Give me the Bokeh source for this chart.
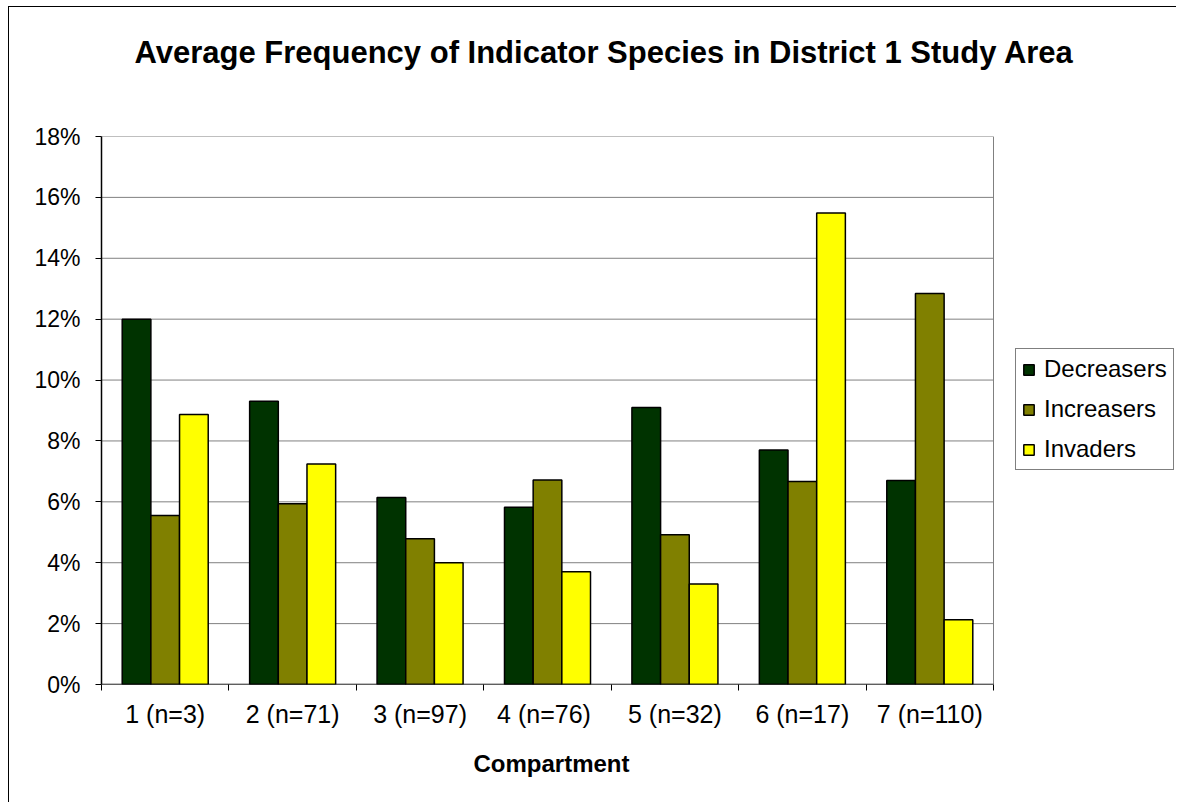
from bokeh.plotting import figure
from bokeh.models import (ColumnDataSource, Range1d, FixedTicker, NumeralTickFormatter,
                          Legend, LegendItem, Title)
from bokeh.transform import dodge
from bokeh.embed import file_html
from bokeh.resources import INLINE

categories = ["1 (n=3)", "2 (n=71)", "3 (n=97)", "4  (n=76)", "5 (n=32)", "6 (n=17)", "7 (n=110)"]
decreasers = [0.1200, 0.0930, 0.0614, 0.0582, 0.0910, 0.0770, 0.0670]
increasers = [0.0555, 0.0594, 0.0479, 0.0672, 0.0492, 0.0667, 0.1284]
invaders = [0.0887, 0.0724, 0.0400, 0.0370, 0.0330, 0.1549, 0.0213]
series_names = ["Decreasers", "Increasers", "Invaders"]
series_colors = ["#003300", "#808000", "#FFFF00"]
y_ticks = [0, 0.02, 0.04, 0.06, 0.08, 0.10, 0.12, 0.14, 0.16, 0.18]
y_max = 0.18
title_text = "Average Frequency of Indicator Species in District 1 Study Area"
x_title = "Compartment"

n = len(categories)
centers = [i + 0.5 for i in range(n)]
src = ColumnDataSource(dict(x=centers, cat=categories, Decreasers=decreasers,
                            Increasers=increasers, Invaders=invaders))

FONT = "Liberation Sans"

# layout (pixels)
W, H = 1168, 796
LEFT, TOP, BOTTOM = 92, 129, 119
PLOT_W = 892                 # width of the plotting area proper
FRAME_W = W - LEFT           # frame reaches the right edge; legend lives there
x_end = n * FRAME_W / PLOT_W

p = figure(width=W, height=H, output_backend="svg", toolbar_location=None,
           x_range=Range1d(0, x_end), y_range=Range1d(0, y_max),
           min_border_left=LEFT, min_border_right=0, min_border_top=TOP, min_border_bottom=BOTTOM,
           background_fill_color="white", border_fill_color="white")
p.styles = {"margin-left": "8px", "margin-top": "6px",
            "border-left": "1px solid #000", "border-top": "1px solid #000"}
p.outline_line_color = None
p.xgrid.grid_line_color = None
p.ygrid.grid_line_color = None

# gridlines and right edge of the plotting area
p.segment(x0=[0] * len(y_ticks), x1=[n] * len(y_ticks), y0=y_ticks, y1=y_ticks,
          line_color="#808080", line_width=1)
p.segment(x0=[n], x1=[n], y0=[0], y1=[y_max], line_color="#808080", line_width=1)

bw = 0.225
offsets = [-bw, 0.0, bw]
renderers = []
for name, col, off in zip(series_names, series_colors, offsets):
    r = p.vbar(x=dodge("x", off, range=p.x_range), top=name, width=bw, bottom=0,
               source=src, fill_color=col, line_color="black", line_width=1.5)
    renderers.append(r)

# x axis baseline (only across the plotting area)
p.segment(x0=[0], x1=[n], y0=[0], y1=[0], line_color="black", line_width=1.5)

# y axis
yax = p.yaxis[0]
yax.ticker = FixedTicker(ticks=y_ticks)
yax.formatter = NumeralTickFormatter(format="0%")
yax.major_label_text_font = FONT
yax.major_label_text_font_size = "23px"
yax.major_label_text_color = "black"
yax.axis_line_color = "black"
yax.axis_line_width = 1.5
yax.major_tick_line_color = "black"
yax.major_tick_in = 0
yax.major_tick_out = 6
yax.minor_tick_line_color = None
yax.major_label_standoff = 15

# x axis
xax = p.xaxis[0]
xax.ticker = FixedTicker(ticks=centers, minor_ticks=list(range(n + 1)))
xax.major_label_overrides = {c: lab for c, lab in zip(centers, categories)}
xax.major_label_text_font = FONT
xax.major_label_text_font_size = "25px"
xax.major_label_text_color = "black"
xax.axis_line_color = None
xax.major_tick_line_color = None
xax.major_tick_in = 0
xax.major_tick_out = 0
xax.minor_tick_line_color = "black"
xax.minor_tick_line_width = 1
xax.minor_tick_in = 0
xax.minor_tick_out = 6
xax.major_label_standoff = 9

# title: a blank spacer panel between frame and title, then the title
p.add_layout(Title(text="\u00a0", text_font=FONT, text_font_size="10px",
                   text_color="white", standoff=54), "above")
p.add_layout(Title(text=title_text, text_font=FONT, text_font_style="bold",
                   text_font_size="31px", text_color="black", align="left",
                   offset=33, standoff=0), "above")

# x axis title
p.add_layout(Title(text=x_title, text_font=FONT, text_font_style="bold",
                   text_font_size="24px", text_color="black", align="left",
                   offset=372, standoff=35), "below")

legend = Legend(items=[LegendItem(label=nm, renderers=[r]) for nm, r in zip(series_names, renderers)],
                location=(914, 214), orientation="vertical",
                label_text_font=FONT, label_text_font_size="24px", label_text_color="black",
                glyph_width=13, glyph_height=13, label_standoff=9, padding=6,
                label_height=24, spacing=12, margin=0,
                border_line_color="#000000", border_line_width=1,
                background_fill_color="white", background_fill_alpha=1.0)
p.add_layout(legend, "center")

open("out.html", "w").write(file_html(p, INLINE))
